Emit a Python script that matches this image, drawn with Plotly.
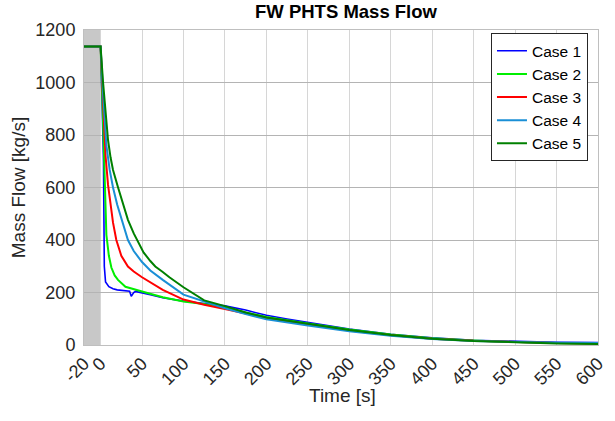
import plotly.graph_objects as go

# ---- data ----
case_names = ["Case 1", "Case 2", "Case 3", "Case 4", "Case 5"]
case_colors = ["#0000ff", "#00ee00", "#ff0000", "#1a8fd6", "#008000"]
case_widths = [1.6, 2, 2, 2, 2]

t_case1 = [-20, 0, 2, 3.5, 4.5, 6, 10, 15, 20, 30, 35, 37, 38, 40, 42, 50, 60, 75, 100, 125, 150, 175, 200, 225, 250, 300, 350, 400, 450, 500, 550, 600]
v_case1 = [1137, 1137, 900, 700, 300, 240, 222, 214, 210, 207, 205, 186, 192, 200, 204, 199, 192, 180, 167, 158, 149, 133, 113, 99, 86, 61, 41, 27, 18, 13, 10, 9]

t_case2 = [-20, 0, 2, 4, 5.5, 7, 10, 13, 17, 21, 30, 40, 50, 75, 100, 125, 150, 175, 200, 250, 300, 350, 400, 450, 500, 550, 600]
v_case2 = [1137, 1137, 950, 720, 560, 420, 340, 295, 265, 248, 222, 212, 204, 182, 166, 156, 142, 124, 107, 82, 59, 40, 26, 17, 11, 8, 6]

t_case3 = [-20, 0, 3, 6, 9, 12, 15, 19, 25, 33, 40, 50, 60, 75, 100, 125, 150, 175, 200, 250, 300, 350, 400, 450, 500, 550, 600]
v_case3 = [1137, 1137, 930, 720, 610, 530, 466, 400, 340, 299, 280, 258, 238, 210, 173, 153, 137, 120, 103, 78, 55, 37, 24, 16, 11, 8, 6]

t_case4 = [-20, 0, 3, 7, 11, 15, 20, 25, 33, 40, 50, 60, 75, 100, 125, 150, 175, 200, 250, 300, 350, 400, 450, 500, 550, 600]
v_case4 = [1137, 1137, 960, 760, 667, 600, 535, 480, 400, 358, 316, 284, 248, 192, 165, 140, 118, 98, 74, 52, 35, 23, 15, 11, 9, 8]

t_case5 = [-20, 0, 3, 6, 9, 12, 15, 21, 27, 33, 40, 48, 50, 52, 60, 66, 75, 83, 100, 125, 150, 175, 200, 250, 300, 350, 400, 450, 500, 550, 600]
v_case5 = [1137, 1137, 1000, 880, 780, 715, 667, 601, 535, 477, 425, 372, 362, 352, 320, 299, 278, 258, 220, 170, 148, 124, 105, 80, 57, 38, 24, 15, 10, 6, 4]

case_t = [t_case1, t_case2, t_case3, t_case4, t_case5]
case_v = [v_case1, v_case2, v_case3, v_case4, v_case5]

x_ticks = [-20, 0, 50, 100, 150, 200, 250, 300, 350, 400, 450, 500, 550, 600]
y_ticks = [0, 200, 400, 600, 800, 1000, 1200]
shade_start, shade_end = -20, 0

title_text = "FW PHTS Mass Flow"
x_title = "Time [s]"
y_title = "Mass Flow [kg/s]"

# ---- figure ----
fig = go.Figure()
for name, col, w, tt, vv in zip(case_names, case_colors, case_widths, case_t, case_v):
    fig.add_trace(go.Scatter(x=tt, y=vv, mode="lines", name=name,
                             line=dict(color=col, width=w)))

fig.add_shape(type="rect", xref="x", yref="y", x0=shade_start, x1=shade_end,
              y0=0, y1=1200, fillcolor="#c8c8c8", line=dict(width=0), layer="below")

font_family = "Liberation Sans, Arial, sans-serif"
fig.update_layout(
    width=615, height=421,
    margin=dict(l=84, r=17, t=30, b=76, autoexpand=False),
    paper_bgcolor="white", plot_bgcolor="white",
    font=dict(family=font_family, size=18, color="#262626"),
    title=dict(text="<b>" + title_text + "</b>", x=0.5626, xanchor="center",
               xref="container", y=0.9715, yanchor="middle", yref="container",
               font=dict(size=18.5, color="#000000")),
    showlegend=True,
    legend=dict(x=0.9805, y=0.99, xanchor="right", yanchor="top",
                bgcolor="white", bordercolor="#262626", borderwidth=1,
                font=dict(size=15.5, color="#000000"), tracegroupgap=0,
                itemwidth=30),
    annotations=[dict(text=x_title, xref="paper", yref="paper", x=0.502, y=-0.159,
                      xanchor="center", yanchor="middle", showarrow=False,
                      font=dict(size=19, color="#262626"))],
)
fig.update_xaxes(range=[-20, 600], tickvals=x_ticks, ticktext=[str(v) for v in x_ticks],
                 tickangle=-45, showgrid=True, gridcolor="#d6d6d6", gridwidth=1,
                 zeroline=False, showline=True, linecolor="#bfbfbf", mirror=True,
                 ticks="", automargin=False, tickfont=dict(size=18))
fig.update_yaxes(range=[0, 1200], tickvals=y_ticks, showgrid=True, gridcolor="#b4b4b4",
                 gridwidth=1, zeroline=False, showline=True, linecolor="#bfbfbf",
                 mirror=True, ticks="", automargin=False, ticklabelstandoff=4,
                 title=dict(text=y_title, font=dict(size=19), standoff=4),
                 tickfont=dict(size=18))

fig.write_html("out.html", post_script="document.body.style.margin='0';",
               config={"displayModeBar": False})
